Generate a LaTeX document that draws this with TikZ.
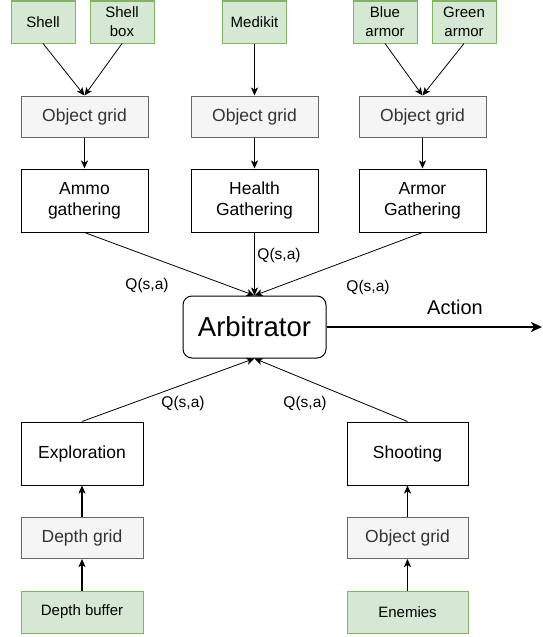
\documentclass[tikz,border=0pt]{standalone}
\usepackage{fontspec}
\setmainfont{Liberation Sans}
\usetikzlibrary{arrows.meta}

\definecolor{verdeFondo}{HTML}{D5E8D4}
\definecolor{verdeBorde}{HTML}{82B366}
\definecolor{grisFondo}{HTML}{F5F5F5}
\definecolor{grisBorde}{HTML}{666666}
\definecolor{grisTexto}{HTML}{333333}

\tikzset{
	entrada/.style={draw=verdeBorde, fill=verdeFondo, line width=1pt, inner sep=0pt,
		minimum width=64pt, minimum height=42pt, align=center,
		font=\fontsize{15}{19}\selectfont},
	rejilla/.style={draw=grisBorde, fill=grisFondo, text=grisTexto, line width=1pt, inner sep=0pt,
		minimum width=127pt, minimum height=41pt, font=\fontsize{17.5}{21}\selectfont},
	conducta/.style={draw, line width=1pt, inner sep=0pt, minimum width=127pt,
		minimum height=63pt, align=center, font=\fontsize{17.5}{21}\selectfont},
	flecha/.style={-{Stealth[length=8pt,width=7pt,inset=2pt]}, line width=0.8pt},
	flechagruesa/.style={flecha, line width=1.5pt},
	qvalor/.style={font=\fontsize{15.5}{18}\selectfont, inner sep=0pt}
}

\begin{document}
\begin{tikzpicture}[x=1pt, y=-1pt]
	\useasboundingbox (0,0) rectangle (542,637);

	% entradas de arriba
	\node[entrada] (shell) at (43,22) {Shell};
	\node[entrada] (shellbox) at (122,22) {Shell\\box};
	\node[entrada] (medikit) at (254.5,22) {Medikit};
	\node[entrada] (blue) at (385,22) {Blue\\armor};
	\node[entrada] (green) at (464,22) {Green\\armor};

	% rejillas y conductas de arriba
	\node[rejilla] (gridA) at (84.5,116.5) {Object grid};
	\node[rejilla] (gridH) at (254.5,116.5) {Object grid};
	\node[rejilla] (gridR) at (422.5,116.5) {Object grid};
	\node[conducta] (ammo) at (84.5,200.5) {Ammo\\gathering};
	\node[conducta] (health) at (254.5,200.5) {Health\\Gathering};
	\node[conducta] (armor) at (422.5,200.5) {Armor\\Gathering};

	\node[draw, line width=1pt, rounded corners=9pt, minimum width=143pt, minimum height=62pt,
		font=\fontsize{27.5}{32}\selectfont] (arb) at (254.5,327) {Arbitrator};

	% parte de abajo
	\node[conducta, minimum width=122pt] (explo) at (82,453.5) {Exploration};
	\node[rejilla, minimum width=122pt] (depthgrid) at (82,538) {Depth grid};
	\node[entrada, minimum width=122pt] (depthbuf) at (82,612) {Depth buffer};
	\node[conducta, minimum width=121pt] (shoot) at (407.5,453.5) {Shooting};
	\node[rejilla, minimum width=121pt] (gridS) at (407.5,538) {Object grid};
	\node[entrada, minimum width=121pt] (enemies) at (407.5,612) {Enemies};

	\coordinate (salida) at (542,327);

	\draw[flecha] (shell.south) -- (gridA.north);
	\draw[flecha] (shellbox.south) -- (gridA.north);
	\draw[flecha] (medikit.south) -- (gridH.north);
	\draw[flecha] (blue.south) -- (gridR.north);
	\draw[flecha] (green.south) -- (gridR.north);
	\draw[flechagruesa] (gridA) -- (ammo);
	\draw[flechagruesa] (gridH) -- (health);
	\draw[flechagruesa] (gridR) -- (armor);
	\draw[flecha] (ammo.south) -- (arb.north);
	\draw[flecha] (health.south) -- (arb.north);
	\draw[flecha] (armor.south) -- (arb.north);
	\draw[flecha] (explo.north) -- (arb.south);
	\draw[flecha] (shoot.north) -- (arb.south);
	\draw[flechagruesa] (depthbuf) -- (depthgrid);
	\draw[flechagruesa] (depthgrid) -- (explo);
	\draw[flecha] (enemies) -- (gridS);
	\draw[flechagruesa] (gridS) -- (shoot);
	\draw[-{Stealth[length=11pt,width=10pt,inset=3pt]}, line width=2.5pt] (arb.east) -- (salida);

	\node[qvalor] (qA) at (147,285) {Q(s,a)};
	\node[qvalor] (qH) at (279,255) {Q(s,a)};
	\node[qvalor] (qR) at (368,287) {Q(s,a)};
	\node[qvalor] (qE) at (183,403) {Q(s,a)};
	\node[qvalor] (qS) at (305,403) {Q(s,a)};
	\node[font=\fontsize{20}{24}\selectfont, inner sep=0pt] (accion) at (455,307) {Action};
\end{tikzpicture}
\end{document}
